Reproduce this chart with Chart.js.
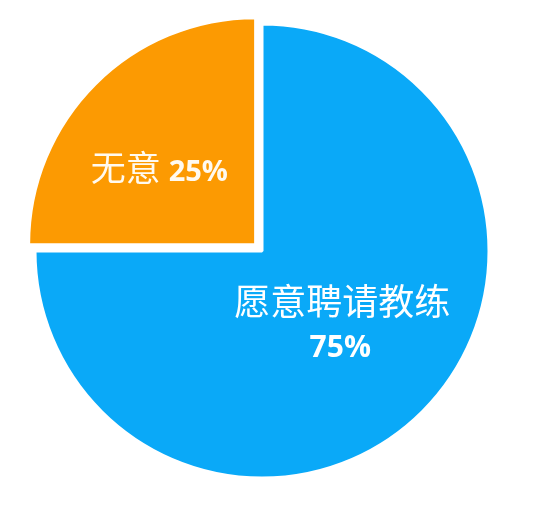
<!DOCTYPE html>
<html>
<head>
<meta charset="utf-8">
<script src="https://cdn.jsdelivr.net/npm/chart.js@4"></script>
<style>
  html, body { margin: 0; padding: 0; background: #fff; }
  #wrap { width: 534px; height: 512px; }
</style>
</head>
<body>
<div id="wrap"><canvas id="pie"></canvas></div>
<script>
// data
var categories = ['愿意聘请教练', '无意'];
var shares = [75, 25];
var sliceColors = ['#0aa9f8', '#fc9a02'];
// chart.js moves an arc by offset / 4
var sliceOffsets = [0, 36];

// label placement: fraction of radius along mid angle + nudge
var labelSetup = [
    { frac: 0.5, dx: 0, dy: -10, twoLines: true, color: '#ffffff', cjkSize: 36, numSize: 30 },
    { frac: 0.5, dx: -16, dy: 4, twoLines: false, color: '#fffaf0', cjkSize: 35, numSize: 29 }
];

var cjkFont = '"Noto Sans CJK SC", sans-serif';
var numFont = '"Open Sans", "Noto Sans", sans-serif';

var sliceLabels = {
    id: 'sliceLabels',
    afterDatasetsDraw: function (chart) {
        var ctx = chart.ctx;
        var meta = chart.getDatasetMeta(0);
        $each(meta.data, function (i, arc) {
            var p = arc.getProps(['x', 'y', 'startAngle', 'endAngle', 'outerRadius'], true);
            var s = labelSetup[i];
            var mid = (p.startAngle + p.endAngle) / 2;
            var r = p.outerRadius * s.frac + sliceOffsets[i] / 4;
            var cx = p.x + Math.cos(mid) * r + s.dx;
            var cy = p.y + Math.sin(mid) * r + s.dy;
            var pct = shares[i] + '%';
            ctx.save();
            ctx.fillStyle = s.color;
            ctx.textBaseline = 'alphabetic';
            if (s.twoLines) {
                ctx.textAlign = 'center';
                ctx.font = 'normal ' + s.cjkSize + 'px ' + cjkFont;
                ctx.fillText(categories[i], cx, cy - 6);
                ctx.font = 'bold ' + s.numSize + 'px ' + numFont;
                ctx.fillText(pct, cx - 2, cy + 36);
            } else {
                ctx.textAlign = 'left';
                ctx.font = 'normal ' + s.cjkSize + 'px ' + cjkFont;
                var w1 = ctx.measureText(categories[i] + ' ').width;
                ctx.font = 'bold ' + s.numSize + 'px ' + numFont;
                var w2 = ctx.measureText(pct).width;
                var x0 = cx - (w1 + w2) / 2;
                var base = cy + 13;
                ctx.font = 'normal ' + s.cjkSize + 'px ' + cjkFont;
                ctx.fillText(categories[i], x0, base);
                ctx.font = 'bold ' + s.numSize + 'px ' + numFont;
                ctx.fillText(pct, x0 + w1, base);
            }
            ctx.restore();
        });
    }
};

function $each(list, fn) {
    for (var i = 0; i < list.length; i++) fn(i, list[i]);
}

var chart = new Chart(document.getElementById('pie'), {
    type: 'pie',
    data: {
        labels: categories,
        datasets: [{
            data: shares,
            backgroundColor: sliceColors,
            borderColor: '#ffffff',
            borderWidth: 3,
            offset: sliceOffsets,
            hoverOffset: 0
        }]
    },
    options: {
        responsive: true,
        maintainAspectRatio: false,
        animation: false,
        radius: 227,
        layout: { padding: { left: 10, right: 20, top: 10, bottom: 20 } },
        plugins: {
            legend: { display: false },
            tooltip: { enabled: false }
        },
        events: []
    },
    plugins: [sliceLabels]
});
</script>
</body>
</html>
